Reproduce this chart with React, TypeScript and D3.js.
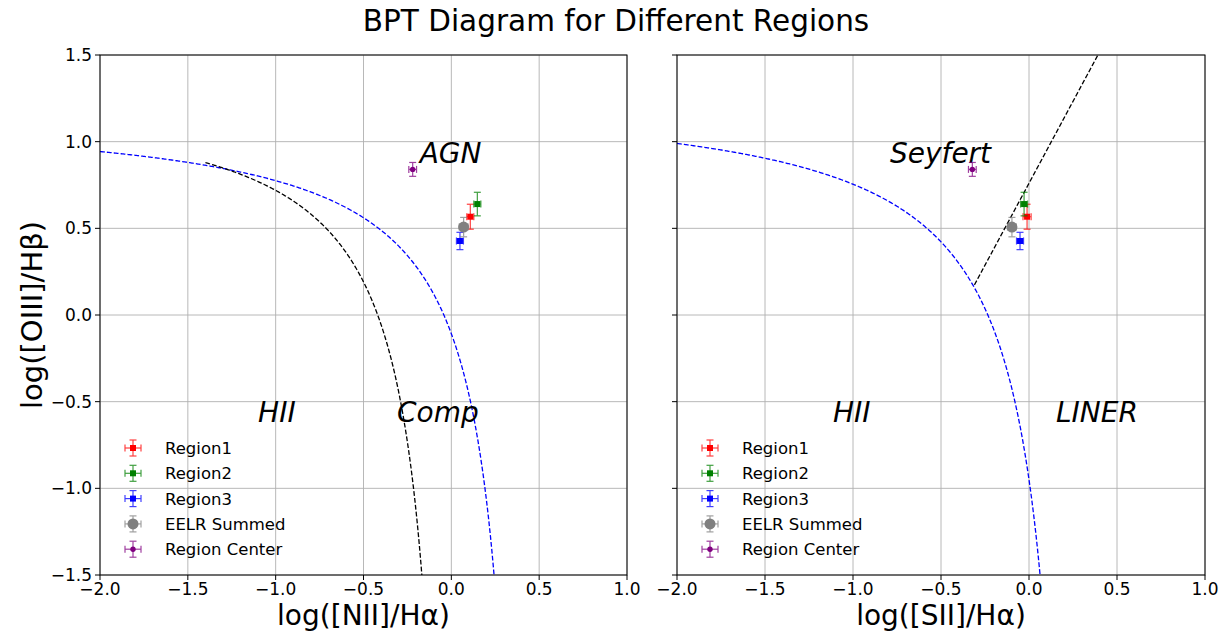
import React from "react";
import * as d3 from "d3";

// ---- Measured line ratios (log10) for each region ----
const regionNames = ["Region1", "Region2", "Region3", "EELR Summed", "Region Center"];
const regionColors = ["red", "green", "blue", "gray", "purple"];
const regionMarkers = ["square", "square", "square", "circle", "dot"];

const nii = [0.108, 0.148, 0.049, 0.07, -0.22];
const niiErr = [0.02, 0.02, 0.02, 0.025, 0.022];
const sii = [-0.011, -0.028, -0.051, -0.097, -0.322];
const siiErr = [0.023, 0.02, 0.02, 0.025, 0.022];
const oiii = [0.567, 0.64, 0.427, 0.507, 0.84];
const oiiiErr = [0.072, 0.068, 0.05, 0.056, 0.04];

const xTicks = [-2.0, -1.5, -1.0, -0.5, 0.0, 0.5, 1.0];
const yTicks = [-1.5, -1.0, -0.5, 0.0, 0.5, 1.0, 1.5];

// ---- Demarcation curves (Kewley 2001, Kauffmann 2003, Kewley 2006) ----
const kewleyNII = (x: number) => 0.61 / (x - 0.47) + 1.19;
const kauffmannNII = (x: number) => 0.61 / (x - 0.05) + 1.3;
const kewleySII = (x: number) => 0.72 / (x - 0.32) + 1.3;
const seyfertLiner = (x: number) => 1.89 * x + 0.76;

const W = 1223;
const H = 633;
const top = 55;
const bottom = 575;
const FONT = "DejaVu Sans, sans-serif";

const sample = (f: (x: number) => number, x0: number, x1: number, n = 400) =>
  d3.range(n + 1).map((i) => {
    const x = x0 + ((x1 - x0) * i) / n;
    return [x, f(x)] as [number, number];
  });

type Curve = { pts: [number, number][]; color: string };
type Label = { text: string; x: number; y: number };

function fmt(v: number) {
  return d3.format(".1f")(v).replace("-", "\u2212");
}

function Marker({ kind, cx, cy, color }: { kind: string; cx: number; cy: number; color: string }) {
  if (kind === "square") return <rect x={cx - 3} y={cy - 3} width={6} height={6} fill={color} />;
  if (kind === "circle") return <circle cx={cx} cy={cy} r={5.5} fill={color} />;
  return <circle cx={cx} cy={cy} r={2.7} fill={color} />;
}

function ErrorPoint({ cx, cy, x0, x1, y0, y1, color, kind }: any) {
  const cap = 3.5;
  return (
    <g>
      <g stroke={color} strokeWidth={1.2} opacity={0.75}>
        <line x1={x0} x2={x1} y1={cy} y2={cy} />
        <line x1={cx} x2={cx} y1={y0} y2={y1} />
        <line x1={x0} x2={x0} y1={cy - cap} y2={cy + cap} />
        <line x1={x1} x2={x1} y1={cy - cap} y2={cy + cap} />
        <line x1={cx - cap} x2={cx + cap} y1={y0} y2={y0} />
        <line x1={cx - cap} x2={cx + cap} y1={y1} y2={y1} />
      </g>
      <Marker kind={kind} cx={cx} cy={cy} color={color} />
    </g>
  );
}

function Panel({
  id,
  left,
  right,
  xs,
  xerr,
  curves,
  labels,
  xLabel,
  showYLabels,
}: {
  id: string;
  left: number;
  right: number;
  xs: number[];
  xerr: number[];
  curves: Curve[];
  labels: Label[];
  xLabel: string;
  showYLabels: boolean;
}) {
  const x = d3.scaleLinear().domain([-2, 1]).range([left, right]);
  const y = d3.scaleLinear().domain([-1.5, 1.5]).range([bottom, top]);
  const line = d3
    .line<[number, number]>()
    .x((d) => x(d[0]))
    .y((d) => y(d[1]));

  const legendX = left + 33;
  const legendY0 = 448;
  const legendStep = 25.3;

  return (
    <g>
      <defs>
        <clipPath id={id}>
          <rect x={left} y={top} width={right - left} height={bottom - top} />
        </clipPath>
      </defs>
      {/* grid */}
      <g stroke="#b0b0b0" strokeWidth={0.9}>
        {xTicks.map((t) => (
          <line key={"gx" + t} x1={x(t)} x2={x(t)} y1={top} y2={bottom} />
        ))}
        {yTicks.map((t) => (
          <line key={"gy" + t} x1={left} x2={right} y1={y(t)} y2={y(t)} />
        ))}
      </g>
      {/* demarcation curves */}
      <g clipPath={`url(#${id})`}>
        {curves.map((c, i) => (
          <path
            key={i}
            d={line(c.pts) || ""}
            fill="none"
            stroke={c.color}
            strokeWidth={1.3}
            strokeDasharray="4.8,2.1"
          />
        ))}
      </g>
      {/* region labels */}
      {labels.map((l) => (
        <text
          key={l.text}
          x={x(l.x)}
          y={y(l.y)}
          fontFamily={FONT}
          fontStyle="italic"
          fontSize={28}
          fill="black"
        >
          {l.text}
        </text>
      ))}
      {/* data points */}
      {xs.map((v, i) => (
        <ErrorPoint
          key={regionNames[i]}
          cx={x(v)}
          cy={y(oiii[i])}
          x0={x(v - xerr[i])}
          x1={x(v + xerr[i])}
          y0={y(oiii[i] + oiiiErr[i])}
          y1={y(oiii[i] - oiiiErr[i])}
          color={regionColors[i]}
          kind={regionMarkers[i]}
        />
      ))}
      {/* legend */}
      {regionNames.map((name, i) => {
        const cy = legendY0 + i * legendStep;
        return (
          <g key={"lg" + name}>
            <ErrorPoint
              cx={legendX}
              cy={cy}
              x0={legendX - 8}
              x1={legendX + 8}
              y0={cy - 8}
              y1={cy + 8}
              color={regionColors[i]}
              kind={regionMarkers[i]}
            />
            <text x={left + 65} y={cy + 6} fontFamily={FONT} fontSize={16.5} fill="black">
              {name}
            </text>
          </g>
        );
      })}
      {/* spines */}
      <rect x={left} y={top} width={right - left} height={bottom - top} fill="none" stroke="black" strokeWidth={1} />
      {/* ticks */}
      <g stroke="black" strokeWidth={1}>
        {xTicks.map((t) => (
          <line key={"tx" + t} x1={x(t)} x2={x(t)} y1={bottom} y2={bottom + 5} />
        ))}
        {yTicks.map((t) => (
          <line key={"ty" + t} x1={left - 5} x2={left} y1={y(t)} y2={y(t)} />
        ))}
      </g>
      {xTicks.map((t) => (
        <text
          key={"lx" + t}
          x={x(t)}
          y={595}
          textAnchor="middle"
          fontFamily={FONT}
          fontSize={17}
          fill="black"
        >
          {fmt(t)}
        </text>
      ))}
      {showYLabels &&
        yTicks.map((t) => (
          <text
            key={"ly" + t}
            x={left - 8}
            y={y(t) + 6}
            textAnchor="end"
            fontFamily={FONT}
            fontSize={17}
            fill="black"
          >
            {fmt(t)}
          </text>
        ))}
      <text
        x={(left + right) / 2}
        y={625}
        textAnchor="middle"
        fontFamily={FONT}
        fontSize={28}
        fill="black"
      >
        {xLabel}
      </text>
    </g>
  );
}

export default function App() {
  const niiCurves: Curve[] = [
    { pts: sample(kewleyNII, -2, 0.3), color: "blue" },
    { pts: sample(kauffmannNII, -1.4, -0.1), color: "black" },
  ];
  const siiCurves: Curve[] = [
    { pts: sample(kewleySII, -2, 0.1), color: "blue" },
    { pts: sample(seyfertLiner, -0.31, 0.45), color: "black" },
  ];
  return (
    <svg width={W} height={H} style={{ display: "block", position: "absolute", left: 0, top: 0 }}>
      <rect width={W} height={H} fill="white" />
      <text x={616} y={31} textAnchor="middle" fontFamily={FONT} fontSize={29.5} fill="black">
        BPT Diagram for Different Regions
      </text>
      <text
        transform={`translate(42,315) rotate(-90)`}
        textAnchor="middle"
        fontFamily={FONT}
        fontSize={29}
        fill="black"
      >
        log([OIII]/Hβ)
      </text>
      <Panel
        id="clip-nii"
        left={100}
        right={627}
        xs={nii}
        xerr={niiErr}
        curves={niiCurves}
        labels={[
          { text: "AGN", x: -0.18, y: 0.877 },
          { text: "HII", x: -1.1, y: -0.617 },
          { text: "Comp", x: -0.309, y: -0.617 },
        ]}
        xLabel="log([NII]/Hα)"
        showYLabels={true}
      />
      <Panel
        id="clip-sii"
        left={677}
        right={1205}
        xs={sii}
        xerr={siiErr}
        curves={siiCurves}
        labels={[
          { text: "Seyfert", x: -0.79, y: 0.877 },
          { text: "HII", x: -1.114, y: -0.617 },
          { text: "LINER", x: 0.153, y: -0.617 },
        ]}
        xLabel="log([SII]/Hα)"
        showYLabels={false}
      />
    </svg>
  );
}
